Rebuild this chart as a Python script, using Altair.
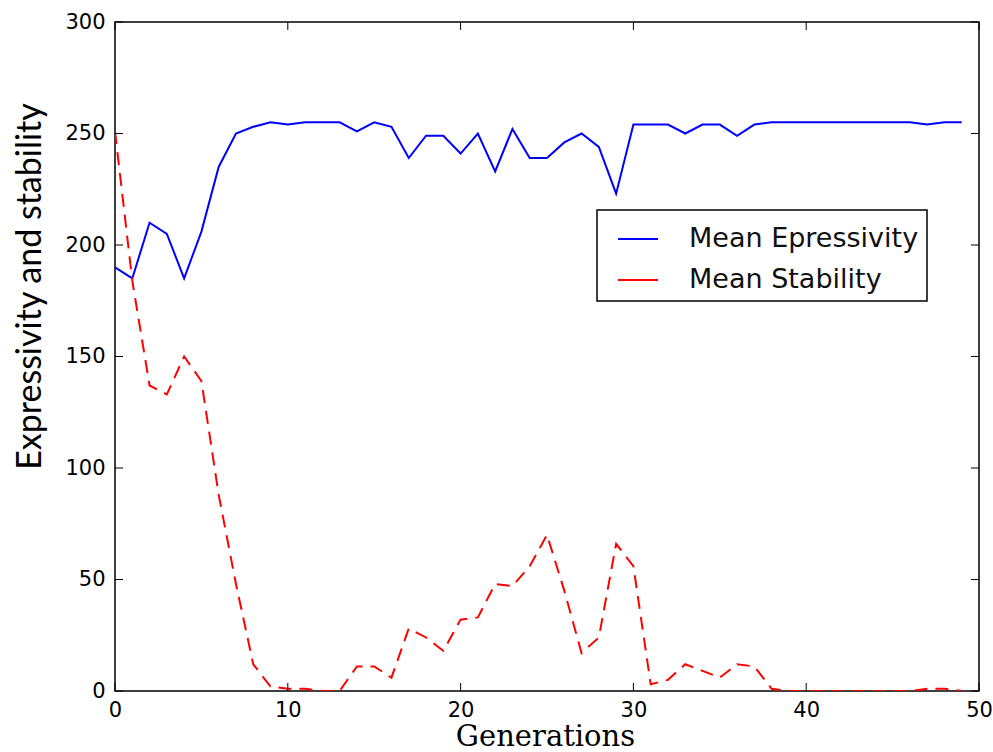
import altair as alt
import pandas as pd

generations = list(range(50))
expressivity = [190, 185, 210, 205, 185, 206, 235, 250, 253, 255,
                254, 255, 255, 255, 251, 255, 253, 239, 249, 249,
                241, 250, 233, 252, 239, 239, 246, 250, 244, 223,
                254, 254, 254, 250, 254, 254, 249, 254, 255, 255,
                255, 255, 255, 255, 255, 255, 255, 254, 255, 255]
stability = [251, 184, 137, 133, 150, 139, 88, 48, 12, 2,
             1, 1, 0, 0, 11, 11, 6, 28, 24, 18,
             32, 33, 48, 47, 56, 70, 45, 17, 24, 66,
             56, 3, 5, 12, 9, 6, 12, 11, 1, 0,
             0, 0, 0, 0, 0, 0, 0, 1, 1, 0]
series_names = ["Mean Epressivity", "Mean Stability"]
series_colors = ["#0000ff", "#ff0000"]
x_ticks = [0, 10, 20, 30, 40, 50]
y_ticks = [0, 50, 100, 150, 200, 250, 300]

W, H = 864, 669

df = pd.DataFrame({
    "gen": generations * 2,
    "value": expressivity + stability,
    "series": [series_names[0]] * len(generations) + [series_names[1]] * len(generations),
})
xt = pd.DataFrame({"gen": x_ticks})
yt = pd.DataFrame({"value": y_ticks})

x_scale = alt.Scale(domain=[0, 50], nice=False, zero=False)
y_scale = alt.Scale(domain=[0, 300], nice=False)

x_axis = alt.Axis(title="Generations", values=x_ticks, format="d",
                  titleFont="DejaVu Serif", titleFontSize=29,
                  titleFontWeight="normal", titleColor="black",
                  titleY=54, titleX=430, titleBaseline="alphabetic",
                  titleAlign="center", labelPadding=8, labelFlush=False)
y_axis = alt.Axis(title="Expressivity and stability", values=y_ticks, format="d",
                  titleFont="Lato", titleFontSize=34,
                  titleFontWeight="normal", titleColor="black",
                  titleAngle=270, titleX=-75, titleY=264,
                  titleBaseline="alphabetic", titleAlign="center",
                  labelPadding=10, labelFlush=False)

color_enc = alt.Color("series:N",
                      scale=alt.Scale(domain=series_names, range=series_colors),
                      legend=alt.Legend(title=None, orient="none", legendX=482, legendY=188,
                                        symbolType="stroke", symbolSize=1600,
                                        symbolStrokeWidth=2, symbolDash=[1, 0],
                                        labelFont="DejaVu Sans",
                                        labelFontSize=27, labelColor="#111111",
                                        labelLimit=0,
                                        labelOffset=30, symbolOffset=12,
                                        padding=8, rowPadding=7,
                                        fillColor="white", strokeColor="black"))

base = alt.Chart(df).encode(
    x=alt.X("gen:Q", scale=x_scale, axis=x_axis),
    y=alt.Y("value:Q", scale=y_scale, axis=y_axis),
    color=color_enc,
)
line_expr = base.transform_filter(alt.datum.series == series_names[0]).mark_line(
    strokeWidth=2, clip=True)
line_stab = base.transform_filter(alt.datum.series == series_names[1]).mark_line(
    strokeWidth=2, clip=True, strokeDash=[13, 8])

bottom_ticks = alt.Chart(xt).mark_rule(color="black", strokeWidth=1).encode(
    x=alt.X("gen:Q", scale=x_scale, axis=x_axis), y=alt.value(H), y2=alt.value(H - 8))
top_ticks = alt.Chart(xt).mark_rule(color="black", strokeWidth=1).encode(
    x=alt.X("gen:Q", scale=x_scale, axis=x_axis), y=alt.value(0), y2=alt.value(8))
left_ticks = alt.Chart(yt).mark_rule(color="black", strokeWidth=1).encode(
    y=alt.Y("value:Q", scale=y_scale, axis=y_axis), x=alt.value(0), x2=alt.value(8))
right_ticks = alt.Chart(yt).mark_rule(color="black", strokeWidth=1).encode(
    y=alt.Y("value:Q", scale=y_scale, axis=y_axis), x=alt.value(W), x2=alt.value(W - 8))

chart = alt.layer(line_expr, line_stab, bottom_ticks, top_ticks, left_ticks, right_ticks).properties(
    width=W, height=H,
    padding={"left": 115, "top": 22, "right": 993 - 115 - W, "bottom": 752 - 22 - H},
    autosize=alt.AutoSizeParams(type="none"),
    background="white",
).configure_view(
    stroke="black", strokeWidth=1.5
).configure_axis(
    domain=False, ticks=False, grid=False,
    labelFont="DejaVu Sans", labelFontSize=21, labelColor="black",
).configure_legend(
    strokeWidth=1.5
)

chart.save("out.html", embed_options={"renderer": "svg", "actions": False})
